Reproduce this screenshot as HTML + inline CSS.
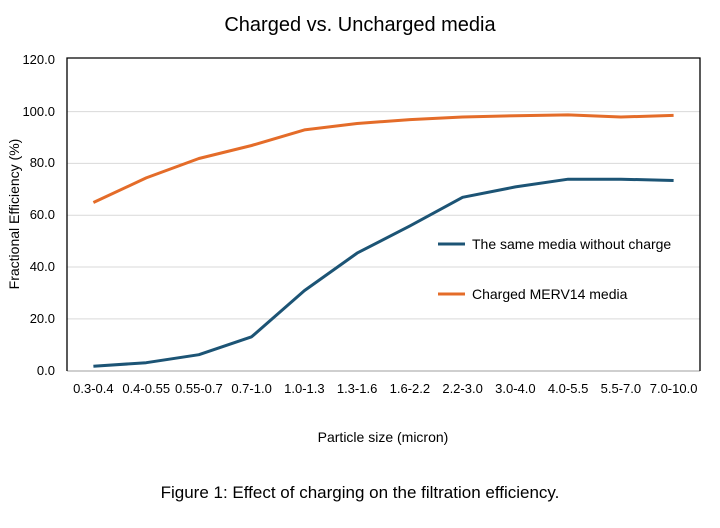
<!DOCTYPE html>
<html><head><style>body{margin:0;background:#fff}</style></head><body>
<svg width="720" height="523" xmlns="http://www.w3.org/2000/svg" font-family="Liberation Sans, sans-serif">
<rect width="720" height="523" fill="#fff"/>
<text x="360" y="31" font-size="20" text-anchor="middle" fill="#000">Charged vs. Uncharged media</text>
<g stroke="#d9d9d9" stroke-width="1">
<line x1="67" x2="700" y1="318.9" y2="318.9"/><line x1="67" x2="700" y1="267" y2="267"/>
<line x1="67" x2="700" y1="215.2" y2="215.2"/><line x1="67" x2="700" y1="163.4" y2="163.4"/>
<line x1="67" x2="700" y1="111.6" y2="111.6"/>
</g>
<line x1="67" x2="700" y1="371" y2="371" stroke="#bfbfbf" stroke-width="1.5"/>
<path d="M67,371 V58 H700 V371" fill="none" stroke="#000" stroke-width="1.3"/>
<g font-size="13" text-anchor="end" fill="#000">
<text x="55" y="375">0.0</text><text x="55" y="323">20.0</text><text x="55" y="271">40.0</text>
<text x="55" y="219">60.0</text><text x="55" y="167">80.0</text><text x="55" y="116">100.0</text><text x="55" y="64">120.0</text>
</g>
<text transform="translate(19,214) rotate(-90)" font-size="14" text-anchor="middle">Fractional Efficiency (%)</text>
<g font-size="13" text-anchor="middle">
<text x="93.4" y="393">0.3-0.4</text><text x="146.2" y="393">0.4-0.55</text><text x="198.9" y="393">0.55-0.7</text>
<text x="251.6" y="393">0.7-1.0</text><text x="304.4" y="393">1.0-1.3</text><text x="357.1" y="393">1.3-1.6</text>
<text x="409.9" y="393">1.6-2.2</text><text x="462.6" y="393">2.2-3.0</text><text x="515.4" y="393">3.0-4.0</text>
<text x="568.1" y="393">4.0-5.5</text><text x="620.9" y="393">5.5-7.0</text><text x="673.6" y="393">7.0-10.0</text>
</g>
<text x="383" y="442" font-size="14" text-anchor="middle">Particle size (micron)</text>
<polyline fill="none" stroke="#e46c29" stroke-width="3" stroke-linejoin="round" points="93.4,202.5 146.2,177.9 198.9,158.5 251.6,145.5 304.4,129.9 357.1,123.5 409.9,119.6 462.6,117 515.4,115.7 568.1,114.9 620.9,117 673.6,115.4"/>
<polyline fill="none" stroke="#1c5475" stroke-width="3" stroke-linejoin="round" points="93.4,366.3 146.2,362.7 198.9,354.7 251.6,336.8 304.4,290.6 357.1,253.1 409.9,225.9 462.6,197.3 515.4,186.9 568.1,179.2 620.9,179.2 673.6,180.5"/>
<line x1="438" x2="465" y1="244" y2="244" stroke="#1c5475" stroke-width="3"/>
<text x="472" y="249" font-size="14">The same media without charge</text>
<line x1="438" x2="465" y1="294" y2="294" stroke="#e46c29" stroke-width="3"/>
<text x="472" y="299" font-size="14">Charged MERV14 media</text>
<text x="360" y="498" font-size="17" text-anchor="middle">Figure 1: Effect of charging on the filtration efficiency.</text>
</svg>
</body></html>
